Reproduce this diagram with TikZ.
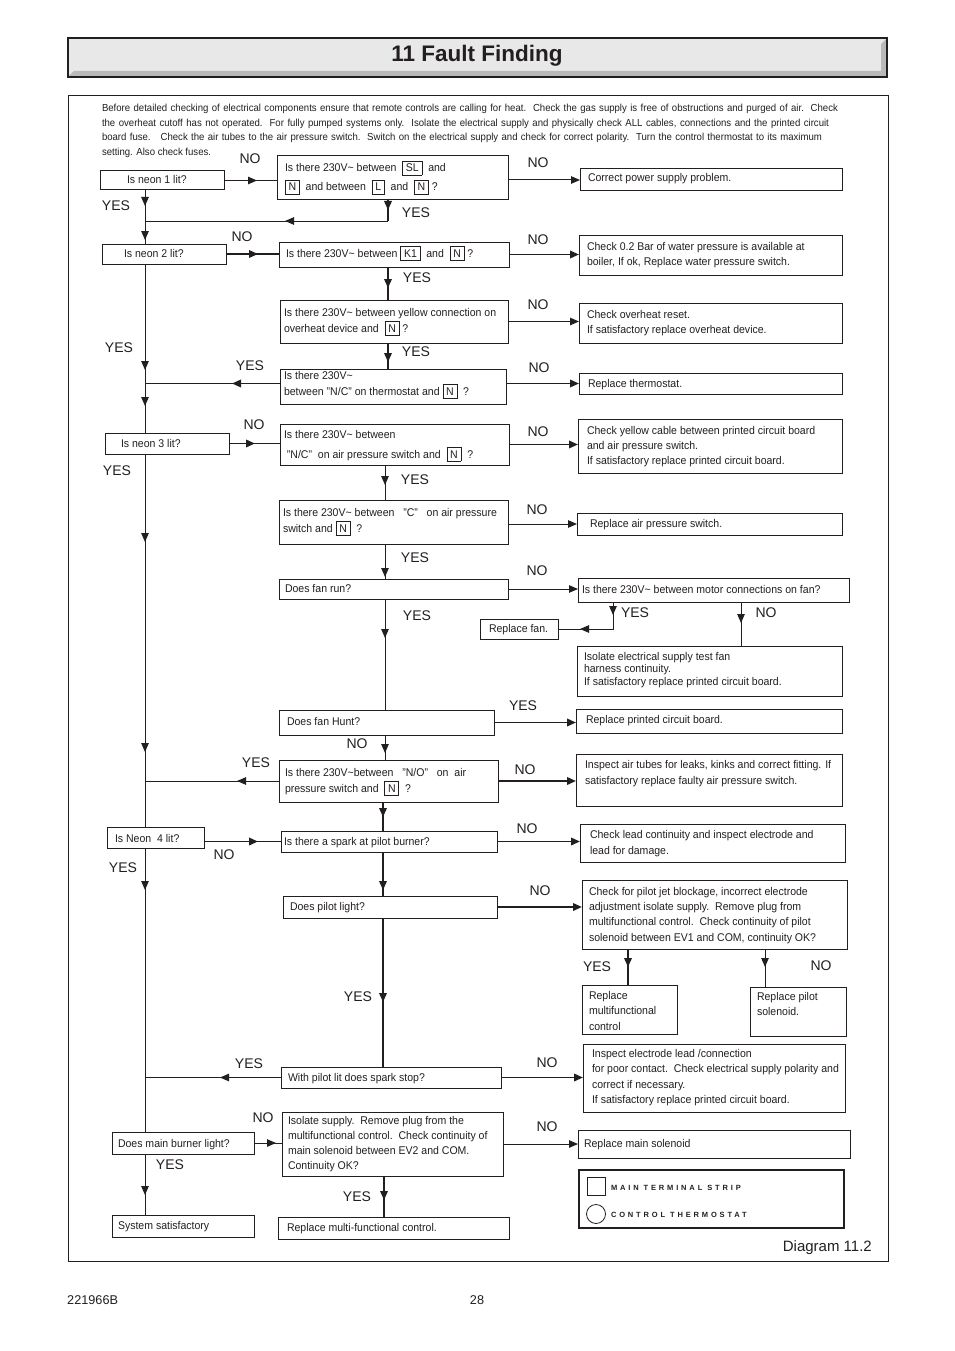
\documentclass[tikz,border=0pt]{standalone}
\usepackage{fontspec}
\setmainfont{Liberation Sans}[FakeStretch=0.94]
\newfontfamily\plainsans{Liberation Sans}
\newfontfamily\legendfont{Liberation Sans Bold}[LetterSpace=38]
\usetikzlibrary{arrows.meta,decorations.markings}
\definecolor{ink}{HTML}{231F20}
\setlength\fboxsep{2pt}
\setlength\fboxrule{0.8pt}
\newcommand\tb[1]{\fbox{\rule[-1pt]{0pt}{9.5pt}\hspace{0.8pt}#1\hspace{0.8pt}}}
\newcommand\bx[9]{%
  \node[boxst, anchor=north west, minimum width=#4-#2, minimum height=#5-#3] (#1) at (#2,#3) {};
  \node[txt, font=\fontsize{11.2}{#8}\selectfont] (#1t) at (#6,#7) {\begin{tabular}[t]{@{}l@{}}#9\end{tabular}};}
\tikzset{
  x=1pt, y=-1pt,
  >={Triangle[length=9pt,width=7.5pt]},
  ln/.style={line width=1pt, draw=ink},
  thk/.style={line width=1.9pt, draw=ink},
  boxst/.style={draw=ink, line width=1pt, rectangle, inner sep=0pt, outer sep=0pt},
  txt/.style={inner sep=0pt, outer sep=0pt, anchor=base west, text=ink},
  lbl/.style={inner sep=0pt, font=\plainsans\fontsize{14}{14}\selectfont, text=ink},
  am/.style={postaction={decorate, decoration={markings, mark=at position #1 with {\arrow{>}}}}},
  ae/.style={-{Triangle[length=9pt,width=7.5pt]}}
}
\begin{document}
\begin{tikzpicture}
\useasboundingbox (0,0) rectangle (954,1351);
\fill[white] (0,0) rectangle (954,1351);
% title bar
\fill[gray!18] (68,38) rectangle (887,77);
\fill[gray!55] (68,77) -- (74,71) -- (881,71) -- (881,44) -- (887,38) -- (887,77) -- cycle;
\draw[ink, line width=1.2pt] (68,38) rectangle (887,77);
\node[font=\plainsans\bfseries\fontsize{22.5}{22.5}\selectfont, text=ink] (title) at (477,56) {11 Fault Finding};
% frame
\draw[ink, line width=1pt] (68,96) rectangle (888,1261);
% intro
\begin{scope}[every node/.style={txt, font=\fontsize{10.2}{10.2}\selectfont}]
\node (i1) at (102,112) {\makebox[736pt][s]{Before detailed checking of electrical components ensure that remote controls are calling for heat.\ \ Check the gas supply is free of obstructions and purged of air.\ \ Check}};
\node (i2) at (102,127) {\makebox[727pt][s]{the overheat cutoff has not operated.\ \ For fully pumped systems only.\ \ Isolate the electrical supply and physically check ALL cables, connections and the printed circuit}};
\node (i3) at (102,141) {\makebox[720pt][s]{board fuse.\ \ \ Check the air tubes to the air pressure switch.\ \ Switch on the electrical supply and check for correct polarity.\ \ Turn the control thermostat to its maximum}};
\node (i4) at (102,156) {setting. Also check fuses.};
\end{scope}
% boxes
\bx{neon1}{100}{171}{224}{190}{127}{184}{14}{Is neon 1 lit?}
\bx{q1}{277}{156}{508}{200}{285}{172}{19}{Is there 230V\textasciitilde{} between \ \tb{SL}\ \ and\\\tb{N}\ \ and between \ \tb{L}\ \ and \ \tb{N}\ ?}
\bx{cps}{580}{169}{842}{191}{588}{182}{14}{Correct power supply problem.}
\bx{neon2}{102}{244}{226}{264}{124}{257}{14}{Is neon 2 lit?}
\bx{k1}{279}{242}{509}{267}{286}{257}{14}{Is there 230V\textasciitilde{} between \tb{K1}\ \ and \ \tb{N}\ ?}
\bx{c02}{579}{235}{842}{275}{587}{250}{15}{Check 0.2 Bar of water pressure is available at\\boiler, If ok, Replace water pressure switch.}
\bx{q7}{280}{300}{508}{343}{284}{316}{16}{Is there 230V\textasciitilde{} between yellow connection on\\overheat device and \ \tb{N}\ ?}
\bx{ovh}{579}{303}{842}{343}{587}{318}{15}{Check overheat reset.\\If satisfactory replace overheat device.}
\bx{q9}{280}{369}{506}{404}{284}{379}{16}{Is there 230V\textasciitilde\\between "N/C" on thermostat and \tb{N}\ \ ?}
\bx{thermo}{579}{373}{842}{394}{588}{387}{14}{Replace thermostat.}
\bx{neon3}{105}{433}{229}{454}{121}{447}{14}{Is neon 3 lit?}
\bx{q12}{280}{424}{509}{465}{284}{438}{20}{Is there 230V\textasciitilde{} between\\\ "N/C"\ \ on air pressure switch and \ \tb{N}\ \ ?}
\bx{cy}{578}{419}{842}{473}{587}{434}{15}{Check yellow cable between printed circuit board\\and air pressure switch.\\If satisfactory replace printed circuit board.}
\bx{q14}{279}{500}{508}{544}{283}{516}{16}{Is there 230V\textasciitilde{} between \ \ "C" \ \ on air pressure\\switch and \tb{N}\ \ ?}
\bx{aps}{577}{513}{842}{535}{590}{527}{14}{Replace air pressure switch.}
\bx{fanrun}{279}{579}{508}{599}{285}{592}{14}{Does fan run?}
\bx{q17}{578}{578}{849}{602}{582}{593}{14}{Is there 230V\textasciitilde{} between motor connections on fan?}
\bx{rfan}{480}{619}{558}{639}{489}{632}{14}{Replace fan.}
\bx{iso}{577}{646}{842}{696}{584}{660}{12.5}{Isolate electrical supply test fan\\harness continuity.\\If satisfactory replace printed circuit board.}
\bx{hunt}{279}{710}{494}{735}{287}{725}{14}{Does fan Hunt?}
\bx{pcb}{576}{709}{842}{733}{586}{723}{14}{Replace printed circuit board.}
\bx{q22}{279}{760}{498}{802}{285}{776}{16}{Is there 230V\textasciitilde{}between \ \ "N/O" \ \ on \ air\\pressure switch and \ \tb{N}\ \ ?}
\bx{air}{576}{754}{842}{806}{585}{768}{16}{Inspect air tubes for leaks, kinks and correct fitting. If\\satisfactory replace faulty air pressure switch.}
\bx{neon4}{107}{827}{204}{848}{115}{842}{14}{Is Neon \ 4 lit?}
\bx{q25}{281}{831}{497}{852}{284}{845}{14}{Is there a spark at pilot burner?}
\bx{lead}{580}{824}{845}{862}{590}{838}{16}{Check lead continuity and inspect electrode and\\lead for damage.}
\bx{q27}{283}{896}{497}{918}{290}{910}{14}{Does pilot light?}
\bx{jet}{582}{880}{847}{949}{589}{895}{15.4}{Check for pilot jet blockage, incorrect electrode\\adjustment isolate supply.\ \ Remove plug from\\multifunctional control.\ \ Check continuity of pilot\\solenoid between EV1 and COM, continuity OK?}
\bx{rmfc}{582}{985}{677}{1034}{589}{999}{15.5}{Replace\\multifunctional\\control}
\bx{rpil}{750}{987}{846}{1036}{757}{1000}{15}{Replace pilot\\solenoid.}
\bx{q31}{281}{1067}{501}{1088}{288}{1081}{14}{With pilot lit does spark stop?}
\bx{elec}{583}{1044}{845}{1112}{592}{1057}{15.5}{Inspect electrode lead /connection\\for poor contact.\ \ Check electrical supply polarity and\\correct if necessary.\\If satisfactory replace printed circuit board.}
\bx{burner}{112}{1132}{254}{1154}{118}{1147}{14}{Does main burner light?}
\bx{q34}{282}{1112}{503}{1176}{288}{1124}{15.3}{Isolate supply.\ \ Remove plug from the\\multifunctional control.\ \ Check continuity of\\main solenoid between EV2 and COM.\\Continuity OK?}
\bx{msol}{578}{1130}{850}{1158}{584}{1147}{14}{Replace main solenoid}
\bx{sys}{112}{1215}{254}{1237}{118}{1229}{14}{System satisfactory}
\bx{rmf}{278}{1217}{509}{1239}{287}{1231}{14}{Replace multi-functional control.}
% legend
\node[boxst, line width=2pt, anchor=north west, minimum width=265, minimum height=58] (legend) at (579,1170) {};
\node[boxst, line width=0.8pt, anchor=north west, minimum width=18, minimum height=18] (sq) at (587,1177) {};
\node[draw=ink, line width=0.8pt, circle, minimum size=19, inner sep=0pt] (ci) at (596,1214) {};
\node[txt, font=\legendfont\fontsize{7.5}{7.5}\selectfont] (lg1) at (611,1190) {MAIN TERMINAL STRIP};
\node[txt, font=\legendfont\fontsize{7.5}{7.5}\selectfont] (lg2) at (611,1217) {CONTROL THERMOSTAT};
% captions
\node[anchor=base east, inner sep=0pt, font=\plainsans\fontsize{15}{15}\selectfont, text=ink] (cap) at (872,1251) {Diagram 11.2};
\node[anchor=base west, inner sep=0pt, font=\plainsans\fontsize{12.7}{12.7}\selectfont, text=ink] (ft1) at (67,1304) {221966B};
\node[anchor=base, inner sep=0pt, font=\plainsans\fontsize{12.7}{12.7}\selectfont, text=ink] (ft2) at (477,1304) {28};
% spine coordinates
\coordinate (T) at (145,0);
\coordinate (S1) at (388,0);
\coordinate (S2) at (385,0);
\coordinate (S3) at (383,0);
\coordinate (S4) at (613,0);
\coordinate (S5) at (741,0);
\coordinate (S6) at (628,0);
\coordinate (S7) at (765,0);
\coordinate (S8) at (384,0);
\coordinate (j1) at (145,221);
\coordinate (b1) at (388,221);
% connectors
\draw[ln, am=33pt] (neon1.east) -- (neon1.east -| q1.west);
\draw[ln, ae] (cps.west -| q1.east) -- (cps.west);
\draw[ln, am=16pt, am=50pt] (neon1.south -| T) -- (neon2.north -| T);
\draw[thk, am=10pt] (q1.south -| S1) -- (b1);
\draw[ln, am=103pt] (b1) -- (j1);
\draw[thk, am=32pt] (neon2.east) -- (neon2.east -| k1.west);
\draw[thk, ae] (k1.east) -- (k1.east -| c02.west);
\draw[thk, am=21pt] (k1.south -| S1) -- (q7.north -| S1);
\draw[ln, ae] (q7.east) -- (q7.east -| ovh.west);
\draw[thk, am=19pt] (q7.south -| S1) -- (q9.north -| S1);
\draw[thk, ae] (thermo.west -| q9.east) -- (thermo.west);
\draw[thk, am=48pt] (q9.west |- thermo.west) -- (T |- thermo.west);
\draw[ln, am=106pt, am=142pt] (neon2.south -| T) -- (neon3.north -| T);
\draw[thk, am=26pt] (neon3.east) -- (neon3.east -| q12.west);
\draw[thk, ae] (q12.east) -- (q12.east -| cy.west);
\draw[ln, am=20pt] (q12.south -| S2) -- (q14.north -| S2);
\draw[ln, ae] (aps.west -| q14.east) -- (aps.west);
\draw[ln, am=33pt] (q14.south -| S2) -- (fanrun.north -| S2);
\draw[ln, ae] (fanrun.east) -- (fanrun.east -| q17.west);
\draw[ln, am=13pt, am=60pt] (q17.south -| S4) -- (S4 |- rfan.east) -- (rfan.east);
\draw[ln, am=21pt] (q17.south -| S5) -- (iso.north -| S5);
\draw[ln, am=39pt] (fanrun.south -| S2) -- (hunt.north -| S2);
\draw[thk, ae] (hunt.east) -- (hunt.east -| pcb.west);
\draw[ln, am=18pt] (hunt.south -| S2) -- (q22.north -| S2);
\draw[thk, ae] (q22.east) -- (q22.east -| air.west);
\draw[ln, am=42pt] (q22.west) -- (q22.west -| T);
\draw[ln, am=88pt, am=298pt] (neon3.south -| T) -- (neon4.north -| T);
\draw[thk, am=54pt] (q25.west -| neon4.east) -- (q25.west);
\draw[thk, am=15pt] (q22.south -| S3) -- (q25.north -| S3);
\draw[thk, ae] (q25.east) -- (q25.east -| lead.west);
\draw[thk, am=38pt] (q25.south -| S3) -- (q27.north -| S3);
\draw[thk, ae] (q27.east) -- (q27.east -| jet.west);
\draw[thk, am=18pt] (jet.south -| S6) -- (rmfc.north -| S6);
\draw[ln, am=18pt] (jet.south -| S7) -- (rpil.north -| S7);
\draw[thk, am=84pt] (q27.south -| S3) -- (q31.north -| S3);
\draw[thk, ae] (q31.east) -- (q31.east -| elec.west);
\draw[ln, am=61pt] (q31.west) -- (q31.west -| T);
\draw[ln, am=42pt] (neon4.south -| T) -- (burner.north -| T);
\draw[ln, am=22pt] (burner.east) -- (burner.east -| q34.west);
\draw[ln, ae] (q34.east |- msol.west) -- (msol.west);
\draw[thk, am=24pt] (q34.south -| S8) -- (rmf.north -| S8);
\draw[ln, am=41pt] (burner.south -| T) -- (sys.north -| T);
% labels
\node[lbl] (l01) at (250,159) {NO};
\node[lbl] (l02) at (538,163) {NO};
\node[lbl] (l03) at (116,206) {YES};
\node[lbl] (l04) at (416,213) {YES};
\node[lbl] (l05) at (242,237) {NO};
\node[lbl] (l06) at (538,240) {NO};
\node[lbl] (l07) at (417,278) {YES};
\node[lbl] (l08) at (538,305) {NO};
\node[lbl] (l09) at (416,352) {YES};
\node[lbl] (l10) at (119,348) {YES};
\node[lbl] (l11) at (250,366) {YES};
\node[lbl] (l12) at (539,368) {NO};
\node[lbl] (l13) at (254,425) {NO};
\node[lbl] (l14) at (538,432) {NO};
\node[lbl] (l15) at (117,471) {YES};
\node[lbl] (l16) at (415,480) {YES};
\node[lbl] (l17) at (537,510) {NO};
\node[lbl] (l18) at (415,558) {YES};
\node[lbl] (l19) at (537,571) {NO};
\node[lbl] (l20) at (635,613) {YES};
\node[lbl] (l21) at (766,613) {NO};
\node[lbl] (l22) at (417,616) {YES};
\node[lbl] (l23) at (523,706) {YES};
\node[lbl] (l24) at (357,744) {NO};
\node[lbl] (l25) at (256,763) {YES};
\node[lbl] (l26) at (525,770) {NO};
\node[lbl] (l27) at (527,829) {NO};
\node[lbl] (l28) at (123,868) {YES};
\node[lbl] (l29) at (224,855) {NO};
\node[lbl] (l30) at (540,891) {NO};
\node[lbl] (l31) at (597,967) {YES};
\node[lbl] (l32) at (821,966) {NO};
\node[lbl] (l33) at (358,997) {YES};
\node[lbl] (l34) at (249,1064) {YES};
\node[lbl] (l35) at (547,1063) {NO};
\node[lbl] (l36) at (263,1118) {NO};
\node[lbl] (l37) at (547,1127) {NO};
\node[lbl] (l38) at (170,1165) {YES};
\node[lbl] (l39) at (357,1197) {YES};
\end{tikzpicture}
\end{document}
